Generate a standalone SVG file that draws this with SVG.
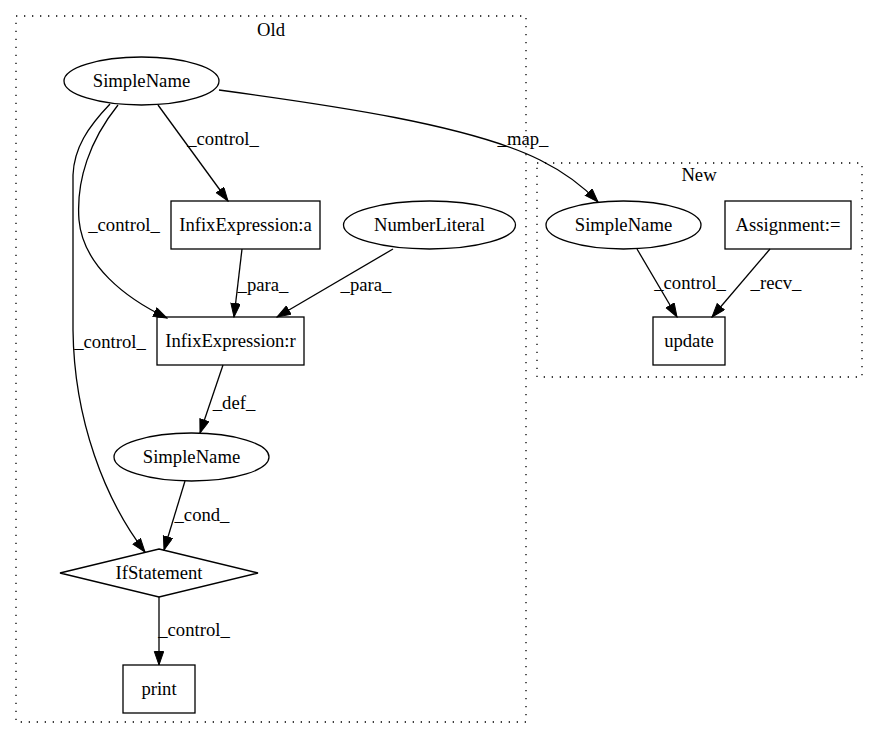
<svg xmlns="http://www.w3.org/2000/svg" width="877" height="740" viewBox="0 0 877 740">
<defs>
<style>
text{font-family:"Liberation Serif","Times New Roman",serif;font-size:18.67px;fill:#000;text-anchor:middle}
.cl{fill:none;stroke:#000;stroke-width:1.3;stroke-dasharray:1.3,6.7}
.nd{fill:none;stroke:#000;stroke-width:1.3}
.ed{fill:none;stroke:#000;stroke-width:1.3;marker-end:url(#ah)}
</style>
<marker id="ah" markerUnits="userSpaceOnUse" markerWidth="15" markerHeight="11" refX="14" refY="5" orient="auto" viewBox="0 0 15 11">
<path d="M0.5,0.3 L14,5 L0.5,9.7 z" fill="#000" stroke="#000" stroke-width="1"/>
</marker>
</defs>
<rect width="877" height="740" fill="#fff"/>
<g id="cluster_old">
<rect class="cl" x="16" y="16" width="510" height="706"/>
<text x="271" y="36">Old</text>
</g>
<g id="cluster_new">
<rect class="cl" x="537" y="163" width="325" height="214"/>
<text x="699" y="181">New</text>
</g>
<g id="connectors">
<path class="ed" d="M158,105 L228,201"/>
<text x="223" y="145">_control_</text>
<path class="ed" d="M118,105 C90,140 76,180 79,220 C83,265 125,298 167,318"/>
<text x="124" y="231">_control_</text>
<path class="ed" d="M110,104 C88,127 74,148 73,175 L73,330 C74,420 105,500 145,552"/>
<text x="110" y="348">_control_</text>
<path class="ed" d="M242,249 L234,317"/>
<text x="263" y="291">_para_</text>
<path class="ed" d="M393,249 L277,317"/>
<text x="366" y="291">_para_</text>
<path class="ed" d="M223,365 L200,433"/>
<text x="234" y="409">_def_</text>
<path class="ed" d="M185,481 L164,550"/>
<text x="202" y="521">_cond_</text>
<path class="ed" d="M159,597 L159,665"/>
<text x="194" y="636">_control_</text>
<path class="ed" d="M219,90 C330,105 470,125 540,160 C560,170 580,183 598,202"/>
<text x="523" y="145">_map_</text>
<path class="ed" d="M637,249 L677,317"/>
<text x="690" y="289">_control_</text>
<path class="ed" d="M770,249 L712,317"/>
<text x="776" y="289">_recv_</text>
</g>
<g id="n_simplename_top">
<ellipse class="nd" cx="141.5" cy="81" rx="77.5" ry="24"/>
<text x="141.5" y="87">SimpleName</text>
</g>
<g id="n_infix_a">
<rect class="nd" x="171" y="201" width="149" height="48"/>
<text x="245.5" y="231">InfixExpression:a</text>
</g>
<g id="n_numberliteral">
<ellipse class="nd" cx="429.5" cy="225" rx="86" ry="24"/>
<text x="429.5" y="231">NumberLiteral</text>
</g>
<g id="n_infix_r">
<rect class="nd" x="157" y="317" width="147" height="48"/>
<text x="230.5" y="347">InfixExpression:r</text>
</g>
<g id="n_simplename_mid">
<ellipse class="nd" cx="191.5" cy="457" rx="77.5" ry="24"/>
<text x="191.5" y="463">SimpleName</text>
</g>
<g id="n_ifstatement">
<polygon class="nd" points="159,549 258,573 159,597 60,573"/>
<text x="159" y="579">IfStatement</text>
</g>
<g id="n_print">
<rect class="nd" x="123" y="665" width="72" height="48"/>
<text x="159" y="695">print</text>
</g>
<g id="n_simplename_new">
<ellipse class="nd" cx="623.5" cy="225" rx="77.5" ry="24"/>
<text x="623.5" y="231">SimpleName</text>
</g>
<g id="n_assignment">
<rect class="nd" x="725" y="201" width="126" height="48"/>
<text x="788" y="231">Assignment:=</text>
</g>
<g id="n_update">
<rect class="nd" x="653" y="317" width="72" height="48"/>
<text x="689" y="347">update</text>
</g>
</svg>
